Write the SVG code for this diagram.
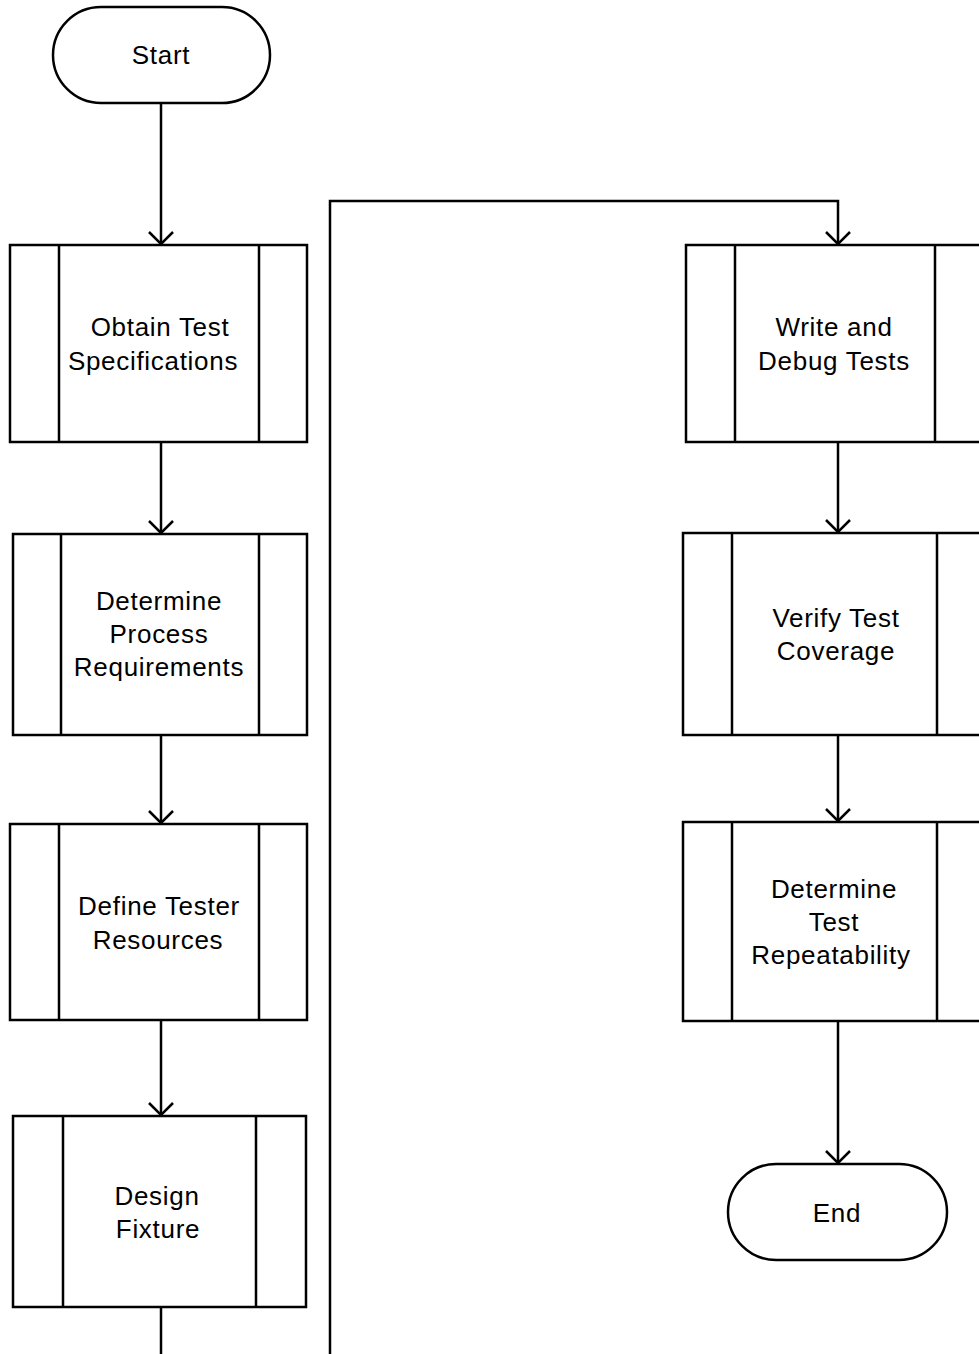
<svg xmlns="http://www.w3.org/2000/svg" width="979" height="1354" viewBox="0 0 979 1354">
  <style>
    .shape { fill: #ffffff; stroke: #000000; stroke-width: 2.5; }
    .bar { fill: none; stroke: #000000; stroke-width: 2.5; }
    .edge { fill: none; stroke: #000000; stroke-width: 2.5; }
    .label { font-family: "Liberation Sans", Arial, sans-serif; font-size: 26px; letter-spacing: 0.7px; fill: #000000; text-anchor: middle; }
  </style>
  <defs>
    <marker id="open-arrow" viewBox="0 0 26 14" refX="13" refY="13" markerWidth="26" markerHeight="14" markerUnits="userSpaceOnUse" orient="0">
      <path d="M1,1 L13,13 L25,1" fill="none" stroke="#000" stroke-width="2.5"/>
    </marker>
  </defs>

  <g id="connectors">
    <path class="edge" d="M161,103 V244" marker-end="url(#open-arrow)"/>
    <path class="edge" d="M161,442 V533" marker-end="url(#open-arrow)"/>
    <path class="edge" d="M161,735 V823" marker-end="url(#open-arrow)"/>
    <path class="edge" d="M161,1020 V1115" marker-end="url(#open-arrow)"/>
    <path class="edge" d="M161,1307 V1354"/>
    <path class="edge" d="M330,1354 V201 H838 V244" marker-end="url(#open-arrow)"/>
    <path class="edge" d="M838,442 V532" marker-end="url(#open-arrow)"/>
    <path class="edge" d="M838,735 V821" marker-end="url(#open-arrow)"/>
    <path class="edge" d="M838,1021 V1163" marker-end="url(#open-arrow)"/>
  </g>

  <g id="start">
    <rect class="shape" x="53" y="7" width="217" height="96" rx="48" ry="48"/>
    <text class="label" x="161" y="64">Start</text>
  </g>

  <g id="obtain-specs">
    <rect class="shape" x="10" y="245" width="297" height="197"/>
    <path class="bar" d="M59,245 V442 M259,245 V442"/>
    <text class="label" x="160" y="336">Obtain Test</text>
    <text class="label" x="153" y="370">Specifications</text>
  </g>

  <g id="process-reqs">
    <rect class="shape" x="13" y="534" width="294" height="201"/>
    <path class="bar" d="M61,534 V735 M259,534 V735"/>
    <text class="label" x="159" y="610">Determine</text>
    <text class="label" x="159" y="643">Process</text>
    <text class="label" x="159" y="676">Requirements</text>
  </g>

  <g id="tester-resources">
    <rect class="shape" x="10" y="824" width="297" height="196"/>
    <path class="bar" d="M59,824 V1020 M259,824 V1020"/>
    <text class="label" x="159" y="915">Define Tester</text>
    <text class="label" x="158" y="949">Resources</text>
  </g>

  <g id="design-fixture">
    <rect class="shape" x="13" y="1116" width="293" height="191"/>
    <path class="bar" d="M63,1116 V1307 M256,1116 V1307"/>
    <text class="label" x="157" y="1205">Design</text>
    <text class="label" x="158" y="1238">Fixture</text>
  </g>

  <g id="write-debug">
    <rect class="shape" x="686" y="245" width="300" height="197"/>
    <path class="bar" d="M735,245 V442 M935,245 V442"/>
    <text class="label" x="834" y="336">Write and</text>
    <text class="label" x="834" y="370">Debug Tests</text>
  </g>

  <g id="verify-coverage">
    <rect class="shape" x="683" y="533" width="303" height="202"/>
    <path class="bar" d="M732,533 V735 M937,533 V735"/>
    <text class="label" x="836" y="627">Verify Test</text>
    <text class="label" x="836" y="660">Coverage</text>
  </g>

  <g id="repeatability">
    <rect class="shape" x="683" y="822" width="303" height="199"/>
    <path class="bar" d="M732,822 V1021 M937,822 V1021"/>
    <text class="label" x="834" y="898">Determine</text>
    <text class="label" x="834" y="931">Test</text>
    <text class="label" x="831" y="964">Repeatability</text>
  </g>

  <g id="end">
    <rect class="shape" x="728" y="1164" width="219" height="96" rx="48" ry="48"/>
    <text class="label" x="837" y="1222">End</text>
  </g>
</svg>
